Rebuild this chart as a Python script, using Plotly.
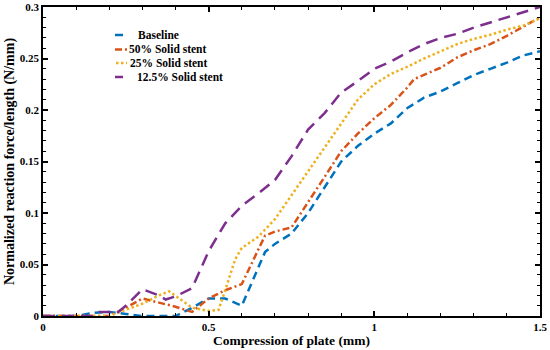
import plotly.graph_objects as go

x_base = [0, 0.1, 0.15, 0.2, 0.25, 0.3, 0.4, 0.45, 0.5, 0.55, 0.6, 0.67, 0.7, 0.75, 0.8, 0.85, 0.9, 0.95,
          1.0, 1.05, 1.1, 1.15, 1.2, 1.25, 1.3, 1.35, 1.4, 1.45, 1.5]
y_base = [0, 0, 0.003, 0.004, 0.002, 0, 0, 0.008, 0.017, 0.017, 0.01, 0.062, 0.07, 0.08, 0.1, 0.125, 0.15,
          0.165, 0.177, 0.187, 0.202, 0.212, 0.218, 0.226, 0.234, 0.24, 0.246, 0.253, 0.257]

x_50 = [0, 0.2, 0.25, 0.3, 0.35, 0.4, 0.45, 0.5, 0.55, 0.6, 0.67, 0.7, 0.75, 0.8, 0.85, 0.9, 0.95,
        1.0, 1.05, 1.1, 1.12, 1.2, 1.25, 1.3, 1.35, 1.4, 1.45, 1.5]
y_50 = [0, 0, 0.008, 0.017, 0.013, 0.009, 0.004, 0.017, 0.025, 0.031, 0.078, 0.082, 0.086, 0.11, 0.135,
        0.16, 0.177, 0.192, 0.205, 0.222, 0.23, 0.241, 0.251, 0.258, 0.264, 0.272, 0.281, 0.29]

x_25 = [0, 0.2, 0.25, 0.3, 0.35, 0.38, 0.42, 0.45, 0.5, 0.53, 0.55, 0.58, 0.6, 0.65, 0.7, 0.75, 0.8,
        0.85, 0.9, 0.95, 1.0, 1.05, 1.1, 1.15, 1.2, 1.25, 1.3, 1.35, 1.4, 1.45, 1.5]
y_25 = [0, 0, 0.006, 0.012, 0.02, 0.024, 0.015, 0.008, 0.005, 0.006, 0.025, 0.055, 0.066, 0.077, 0.094,
        0.117, 0.14, 0.163, 0.186, 0.21, 0.225, 0.235, 0.242, 0.25, 0.257, 0.264, 0.269, 0.273, 0.278,
        0.282, 0.289]

x_125 = [0, 0.15, 0.17, 0.2, 0.22, 0.25, 0.3, 0.35, 0.37, 0.4, 0.45, 0.5, 0.55, 0.6, 0.65, 0.7, 0.75,
         0.8, 0.85, 0.9, 0.95, 1.0, 1.05, 1.1, 1.15, 1.2, 1.25, 1.3, 1.35, 1.4, 1.45, 1.5]
y_125 = [0, 0, 0.004, 0.004, 0.002, 0.01, 0.026, 0.02, 0.016, 0.019, 0.027, 0.063, 0.09, 0.107, 0.119,
         0.132, 0.155, 0.181, 0.197, 0.217, 0.228, 0.24, 0.247, 0.256, 0.264, 0.27, 0.274, 0.28, 0.285,
         0.29, 0.295, 0.3]

names = ["Baseline", "50% Solid stent", "25% Solid stent", "12.5% Solid stent"]
colors = ["#0072BD", "#D95319", "#EDB120", "#7E2F8E"]
dashes = ["8px,5px", "7px,3px,2px,3px", "2.5px,2.5px", "12px,7px"]
series = [(x_base, y_base), (x_50, y_50), (x_25, y_25), (x_125, y_125)]

FONT = "Palatino Linotype, Book Antiqua, Palatino, Liberation Serif, DejaVu Serif, serif"

# plot area geometry (pixels)
W, H = 550, 350
ML, MR, MT, MB = 43, 10, 7, 34
PW, PH = W - ML - MR, H - MT - MB

fig = go.Figure()
for (xs, ys), n, c, d in zip(series, names, colors, dashes):
    fig.add_trace(go.Scatter(x=xs, y=ys, mode="lines", name=n, showlegend=False,
                             line=dict(color=c, width=2.5, dash=d)))

# manual compact legend (pixel positions converted to paper coords)
leg_rows = [35, 49.5, 63, 77]
leg_line = [(115, 123), (115, 127), (116, 127), (115, 123)]
leg_text_x = [136, 127, 128, 135]
leg_dash = ["solid", "7px,3px,2px,3px", "2.5px,2.5px", "solid"]
for n, c, d, yr, (x0, x1), tx in zip(names, colors, leg_dash, leg_rows, leg_line, leg_text_x):
    py = 1 - (yr - MT) / PH
    fig.add_shape(type="line", xref="paper", yref="paper",
                  x0=(x0 - ML) / PW, x1=(x1 - ML) / PW, y0=py, y1=py,
                  line=dict(color=c, width=2.5, dash=d))
    fig.add_annotation(xref="paper", yref="paper", x=(tx - ML) / PW, y=py,
                       xanchor="left", yanchor="middle", text=n, showarrow=False,
                       font=dict(family=FONT, size=11.5, color="black", weight="bold"))

axis_common = dict(
    showline=True, linecolor="black", linewidth=1.5, mirror="ticks",
    ticks="inside", ticklen=5, tickwidth=1.5, tickcolor="black",
    showgrid=False, zeroline=False, automargin=False,
    tickfont=dict(family=FONT, size=11, color="black", weight="bold"),
)

fig.update_xaxes(range=[0, 1.5], tickvals=[0, 0.5, 1, 1.5], ticktext=["0", "0.5", "1", "1.5"],
                 minor=dict(ticks="inside", ticklen=3, tickwidth=1.2, tickcolor="black", dtick=0.1),
                 title=dict(text="Compression of plate (mm)", standoff=2,
                            font=dict(family=FONT, size=13.5, color="black", weight="bold")),
                 **axis_common)
fig.update_yaxes(range=[0, 0.3], tickvals=[0, 0.05, 0.1, 0.15, 0.2, 0.25, 0.3],
                 ticktext=["0", "0.05", "0.1", "0.15", "0.2", "0.25", "0.3"],
                 minor=dict(ticks="inside", ticklen=3, tickwidth=1.2, tickcolor="black", dtick=0.01),
                 title=dict(text="Normalized reaction force/length (N/mm)", standoff=2,
                            font=dict(family=FONT, size=14, color="black", weight="bold")),
                 **axis_common)

fig.update_layout(
    width=W, height=H,
    margin=dict(l=ML, r=MR, t=MT, b=MB),
    plot_bgcolor="white", paper_bgcolor="white",
    font=dict(family=FONT, color="black"),
    showlegend=False,
)

fig.write_html("out.html", config={"displayModeBar": False},
               post_script="document.body.style.margin='0px';document.body.style.padding='0px';")
